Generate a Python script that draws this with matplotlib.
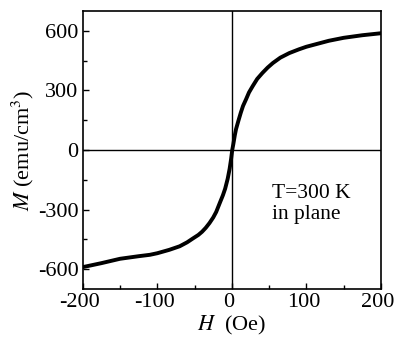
# -*- coding: utf-8 -*-
# M-H loop at 300 K, in-plane field

import matplotlib
matplotlib.use("Agg")
import matplotlib.pyplot as plt
from matplotlib.ticker import MultipleLocator
from matplotlib.transforms import ScaledTranslation

plt.rcParams['font.family'] = 'Liberation Serif'
plt.rcParams['mathtext.fontset'] = 'stix'
plt.rcParams['axes.unicode_minus'] = False
plt.rcParams['font.size'] = 16

# values
field = [-200, -175, -150, -125, -110, -100, -84, -70, -60, -52, -45, -40, -35, -30, -25,
         -21, -16, -12, -9, -5.6, -3, -1, 0.5, 2, 4, 5.6, 9, 12, 15, 19, 23, 28,
         34, 41, 48, 55, 65, 77, 90, 100, 115, 130, 150, 175, 200]
moment = [-590, -570, -548, -535, -528, -520, -503, -485, -465, -445, -428, -412, -392, -368, -340,
          -312, -265, -228, -195, -145, -95, -45, 0, 30, 75, 105, 150, 188, 222, 255, 290, 322,
          358, 388, 415, 438, 465, 488, 507, 520, 535, 550, 565, 578, 588]

fig = plt.figure(figsize=(3.96, 3.44), dpi=100)
ax = fig.add_axes([0.209, 0.16, 0.753, 0.808])

ax.axhline(0, color="black", lw=1.0, zorder=1)
ax.axvline(0.5, color="black", lw=1.0, zorder=1)
ax.plot(field, moment, color="black", lw=2.8, solid_joinstyle="round", zorder=2)

ax.set_xlim(-200, 200)
ax.set_ylim(-700, 700)
ax.xaxis.set_major_locator(MultipleLocator(100))
ax.xaxis.set_minor_locator(MultipleLocator(50))
ax.yaxis.set_major_locator(MultipleLocator(300))
ax.yaxis.set_minor_locator(MultipleLocator(150))
ax.tick_params(which="both", direction="in", top=False, right=False, labelsize=16, pad=3)
ax.tick_params(which="major", length=4, width=1)
ax.tick_params(which="minor", length=3, width=1)
for s in ax.spines.values():
    s.set_linewidth(1.2)

# nudge x tick labels a little to the left, as in the original
shift = ScaledTranslation(-0.03, 0, fig.dpi_scale_trans)
for lab in ax.get_xticklabels():
    lab.set_transform(lab.get_transform() + shift)

ax.set_xlabel("$H$  (Oe)", fontsize=16, labelpad=1)
ax.set_ylabel("$M$ (emu/cm$^3$)", fontsize=16, labelpad=1)

ax.text(54, -170, "T=300 K\nin plane", fontsize=15.5, va="top", ha="left", linespacing=1.15)

fig.savefig("out.png", dpi=100)
